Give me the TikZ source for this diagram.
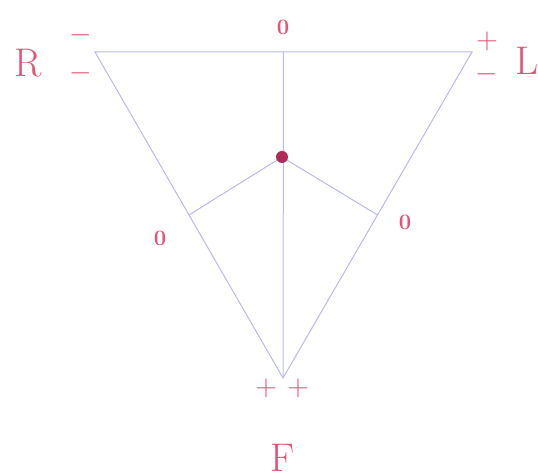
\documentclass[tikz,border=0pt]{standalone}
\usepackage{amsmath,amssymb}
\usepackage{tikz}
\usetikzlibrary{calc}
\definecolor{rosa}{RGB}{228,84,118}
\definecolor{lila}{RGB}{185,185,232}
\definecolor{dunkel}{RGB}{172,44,88}

\begin{document}
\begin{tikzpicture}[x=0.5pt, y=-0.5pt,
    seite/.style={draw=lila, line width=0.5pt},
    buchst/.style={text=rosa, font=\fontsize{20}{24}\selectfont, inner sep=0pt},
    zeichen/.style={text=rosa, font=\fontsize{15}{18}\selectfont, inner sep=0pt},
    null/.style={text=rosa, font=\fontsize{11}{13}\selectfont\bfseries, inner sep=0pt}]

        \useasboundingbox (0,0) rectangle (538,475);

        %
        \coordinate (R) at (95,52);
        \coordinate (L) at (472,52);
        \coordinate (F) at (283,378);
        \coordinate (M) at (282,157);

        %
        \coordinate (RL) at ($(R)!0.5!(L)$);
        \coordinate (RF) at ($(R)!0.5!(F)$);
        \coordinate (LF) at ($(L)!0.5!(F)$);

        %
        \draw[seite] (R) -- (L) -- (F) -- cycle;
        \draw[seite] (RL) -- (F);
        \draw[seite] (M) -- (RF);
        \draw[seite] (M) -- (LF);

        %
        \fill[dunkel] (M) circle (6);

        %
        \node[buchst] (nR) at (28,63) {R};
        \node[buchst] (nL) at (527,61) {L};
        \node[buchst] (nF) at (283,458) {F};

        %
        \node[zeichen] (rm1) at (81,35) {$-$};
        \node[zeichen] (rm2) at (81,73) {$-$};
        \node[zeichen] (lp) at (487,41) {$+$};
        \node[zeichen] (lm) at (487,74) {$-$};
        \node[zeichen] (fp1) at (266,388) {$+$};
        \node[zeichen] (fp2) at (298,388) {$+$};

        %
        \node[null] (n1) at (283,27) {0};
        \node[null] (n2) at (160,238) {0};
        \node[null] (n3) at (405,222) {0};

    \end{tikzpicture}
\end{document}
